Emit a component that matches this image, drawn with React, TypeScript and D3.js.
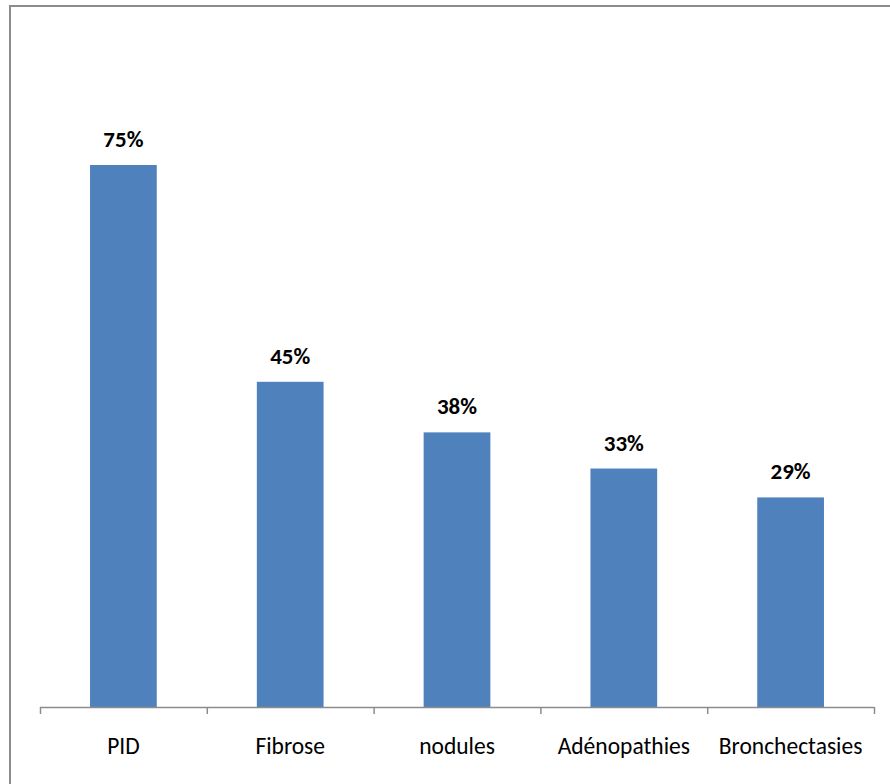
import React from "react";
import * as d3 from "d3";

const categories = ["PID", "Fibrose", "nodules", "Adénopathies", "Bronchectasies"];
const values = [75, 45, 38, 33, 29];
const labels = ["75%", "45%", "38%", "33%", "29%"];

export default function App() {
  const W = 890, H = 784;
  const x = d3.scaleBand<string>().domain(categories).range([40, 874]).paddingInner(0).paddingOuter(0);
  const y = d3.scaleLinear().domain([0, 75]).range([707, 165]);
  const bw = x.bandwidth() * 0.4;
  const ticks = categories.map((c) => x(c)!).concat([874]);
  const font = "Carlito, Calibri, 'Liberation Sans', Arial, sans-serif";
  return (
    <svg width={W} height={H} style={{ position: "absolute", left: 0, top: 0 }}>
      <rect x={0} y={0} width={W} height={H} fill="#fff" />
      <rect x={10} y={6} width={1000} height={1000} fill="none" stroke="#8c8c8c" strokeWidth={2} />
      {categories.map((c, i) => (
        <g key={c}>
          <rect x={x(c)! + (x.bandwidth() - bw) / 2} y={y(values[i])} width={bw} height={y(0) - y(values[i])} fill="#4f81bd" />
          <text x={x(c)! + x.bandwidth() / 2} y={y(values[i]) - 18} textAnchor="middle" fontFamily={font} fontWeight="bold" fontSize={23} fill="#000">{labels[i]}</text>
          <text x={x(c)! + x.bandwidth() / 2} y={754} textAnchor="middle" fontFamily={font} fontSize={23.5} fill="#000">{c}</text>
        </g>
      ))}
      <line x1={40} x2={874} y1={707.5} y2={707.5} stroke="#8c8c8c" strokeWidth={1.5} />
      {ticks.map((t, i) => (
        <line key={i} x1={t + 0.5} x2={t + 0.5} y1={707} y2={714} stroke="#8c8c8c" strokeWidth={1.5} />
      ))}
    </svg>
  );
}
